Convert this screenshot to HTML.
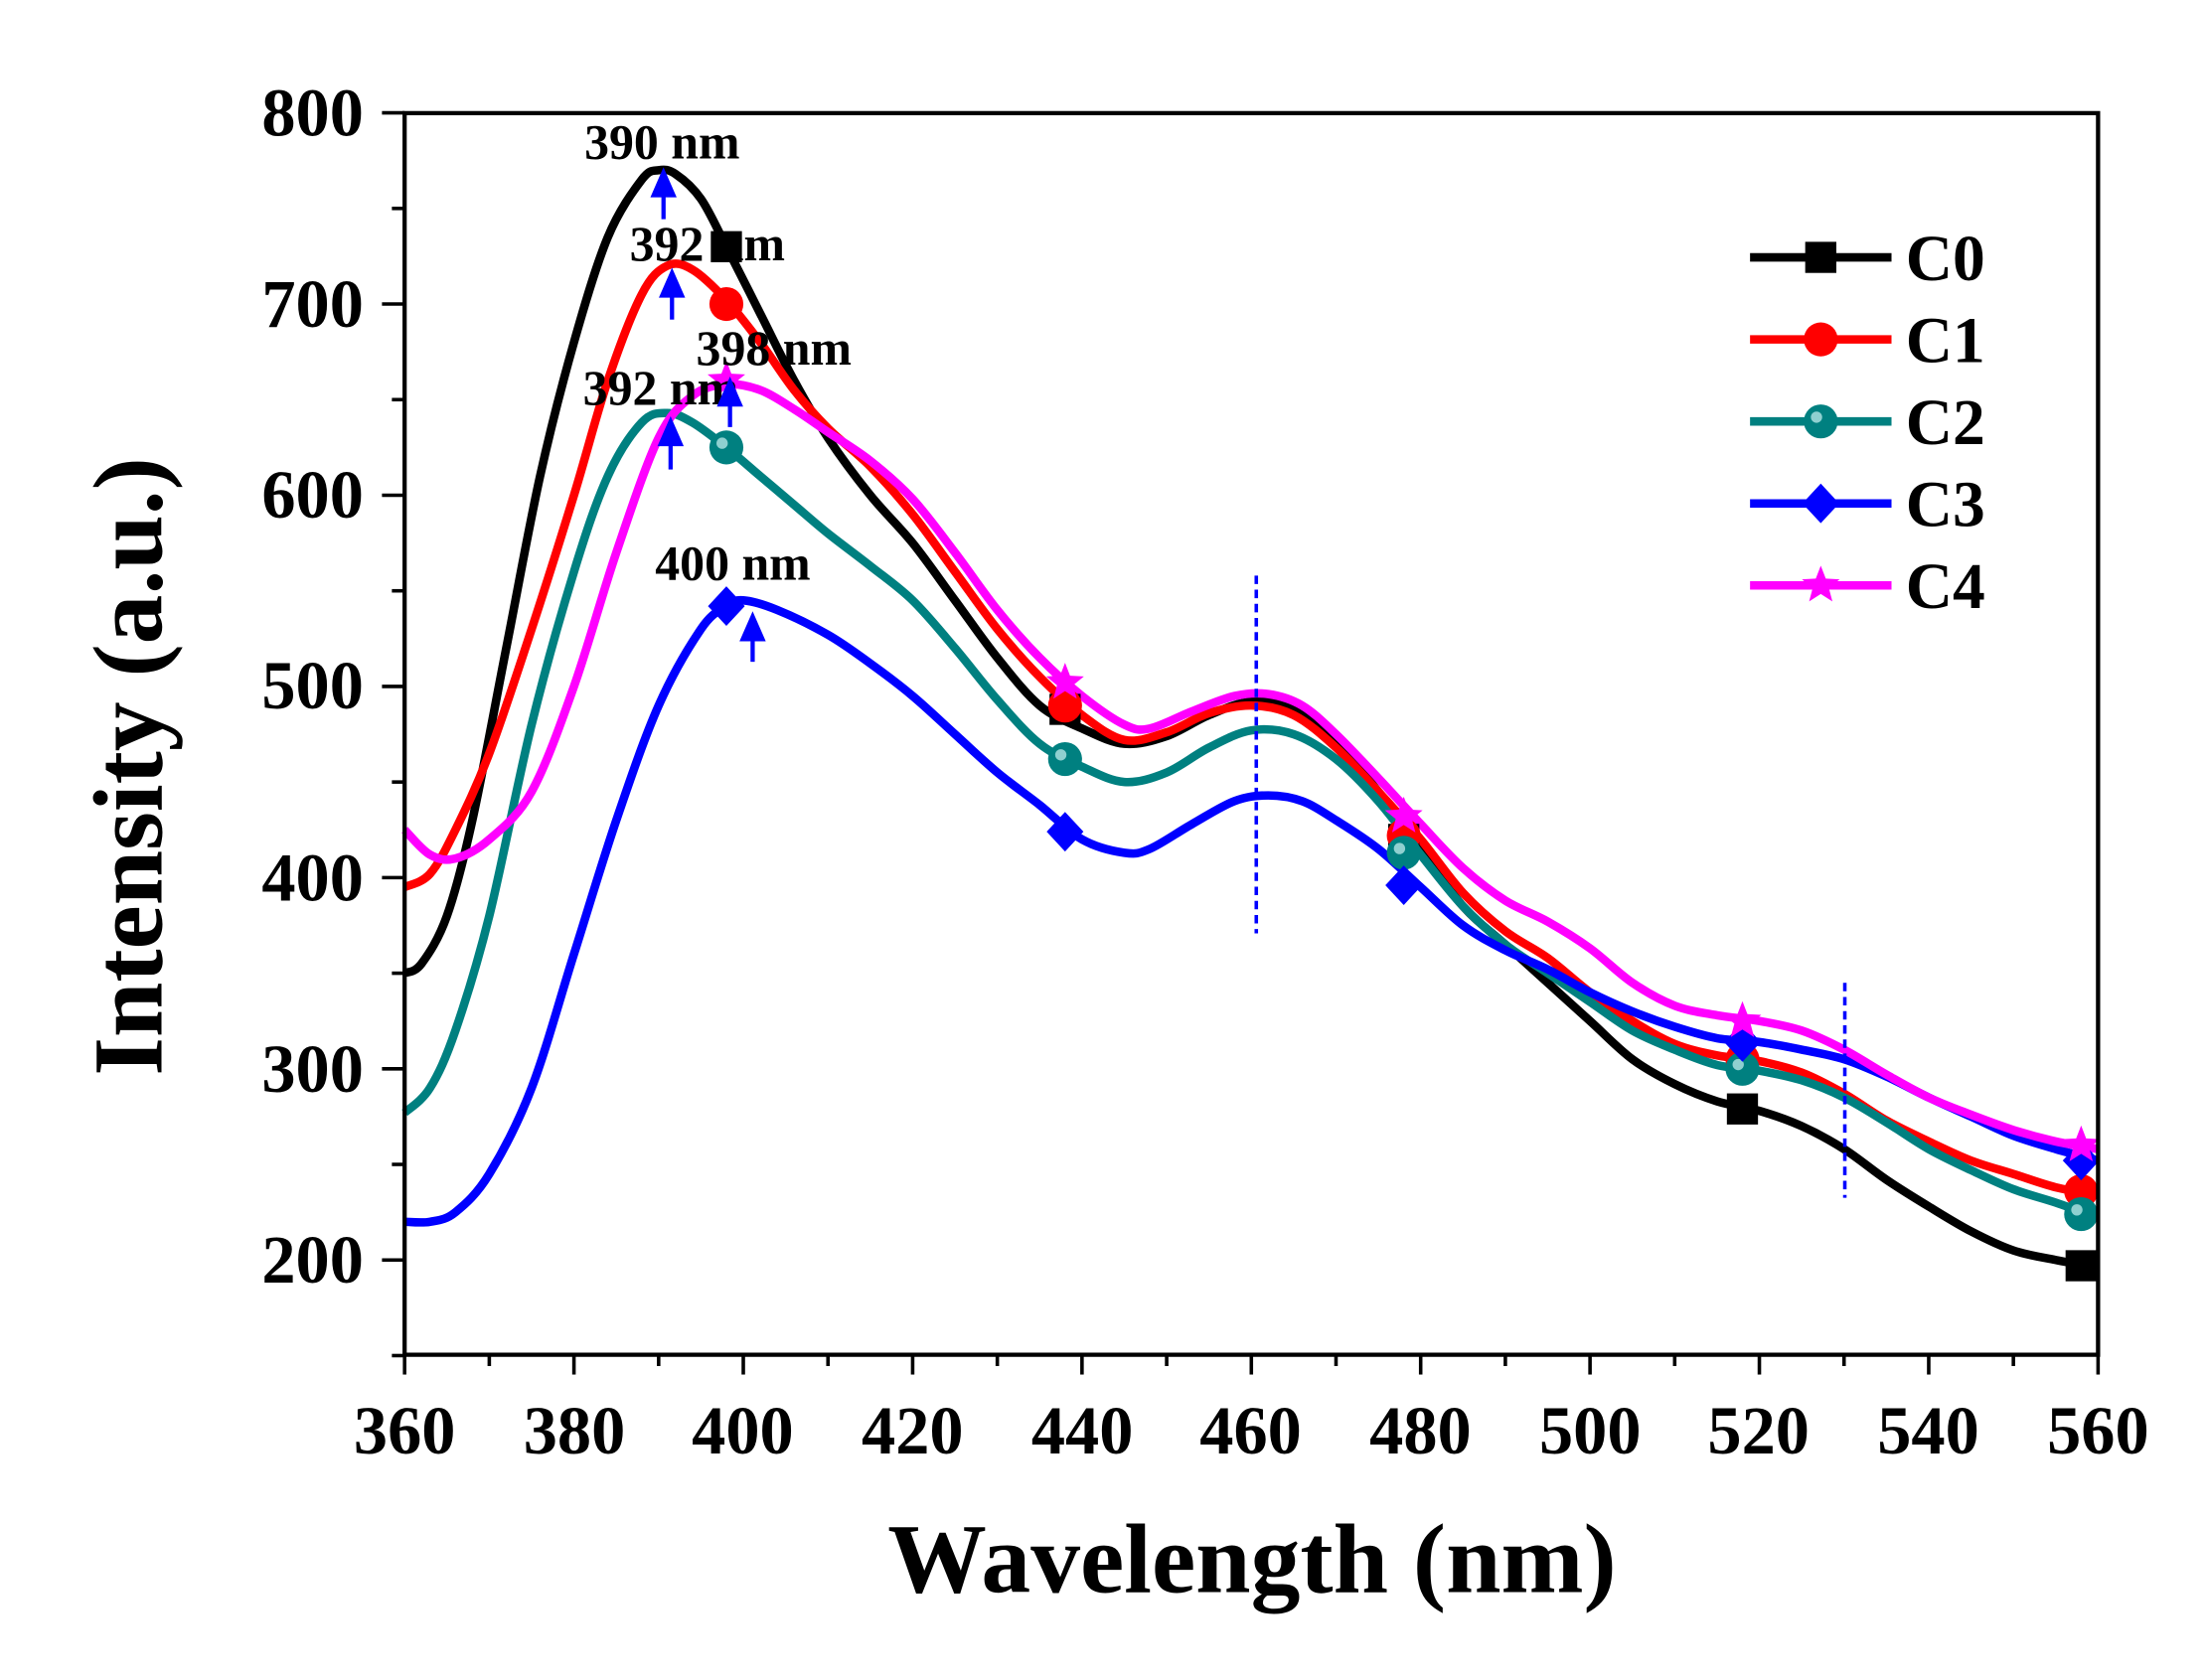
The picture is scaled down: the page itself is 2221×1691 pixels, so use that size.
<!DOCTYPE html>
<html><head><meta charset="utf-8"><style>
html,body{margin:0;padding:0;background:#fff;}
svg{display:block;}
text{font-family:"Liberation Serif",serif;font-weight:bold;}
</style></head><body>
<svg id="s" width="2221" height="1691" viewBox="0 0 1560 1188" preserveAspectRatio="none" xmlns="http://www.w3.org/2000/svg">
<rect x="0" y="0" width="1560" height="1188" fill="#fff"/>
<g id="curves" fill="none" stroke-width="6" stroke-linejoin="round"></g>
<g id="marks"></g>
<g id="ticks" stroke="#000" stroke-width="2.5"></g>
<rect x="286" y="80" width="1197" height="878" fill="none" stroke="#000" stroke-width="3"/>
<g font-size="48" text-anchor="end">
<text x="257" y="96">800</text><text x="257" y="231">700</text><text x="257" y="366">600</text>
<text x="257" y="501">500</text><text x="257" y="637">400</text><text x="257" y="772">300</text><text x="257" y="907">200</text>
</g>
<g font-size="48" text-anchor="middle">
<text x="286" y="1028">360</text><text x="406" y="1028">380</text><text x="525" y="1028">400</text>
<text x="645" y="1028">420</text><text x="765" y="1028">440</text><text x="884" y="1028">460</text>
<text x="1004" y="1028">480</text><text x="1124" y="1028">500</text><text x="1243" y="1028">520</text>
<text x="1363" y="1028">540</text><text x="1483" y="1028">560</text>
</g>
<text x="885" y="1126" font-size="70" text-anchor="middle">Wavelength (nm)</text>
<text transform="translate(114,542) rotate(-90)" font-size="70" text-anchor="middle">Intensity (a.u.)</text>
<g font-size="35" text-anchor="middle" fill="#000">
<text x="468" y="112">390 nm</text><text x="500" y="184">392 nm</text><text x="547" y="258">398 nm</text>
<text x="467" y="286">392 nm</text><text x="518" y="410">400 nm</text>
</g>
<g stroke="#0000ff" stroke-width="3" fill="#0000ff">
<line x1="469" y1="155" x2="469" y2="132"/><polygon points="469,122 462,138 476,138"/>
<line x1="475" y1="226" x2="475" y2="203"/><polygon points="475,193 468,209 482,209"/>
<line x1="474" y1="332" x2="474" y2="308"/><polygon points="474,298 467,314 481,314"/>
<line x1="516" y1="302" x2="516" y2="280"/><polygon points="516,270 509,286 523,286"/>
<line x1="532" y1="468" x2="532" y2="446"/><polygon points="532,436 525,452 539,452"/>
</g>
<g stroke="#0000ff" stroke-width="2.5" stroke-dasharray="6,4">
<line x1="888" y1="407" x2="888" y2="660"/><line x1="1304" y1="695" x2="1304" y2="847"/>
</g>
<g id="legend"></g>
<g font-size="46" fill="#000">
<text x="1347" y="198">C0</text><text x="1347" y="256">C1</text><text x="1347" y="314">C2</text>
<text x="1347" y="372">C3</text><text x="1347" y="430">C4</text>
</g>
</svg>
<script>
var NS="http://www.w3.org/2000/svg";
function X(n){return 286+(n-360)*5.985;}
function Y(v){return 891-(v-200)*1.352;}
function el(t,a,p){var e=document.createElementNS(NS,t);for(var k in a)e.setAttribute(k,a[k]);p.appendChild(e);return e;}
var D={
"#000000":[360,350,362,355,365,380,368,430,372,520,376,610,380,680,384,735,388,765,390,770,392,768,395,755,398,730,402,695,406,660,410,630,415,600,420,575,425,545,430,515,435,490,440,478,445,470,450,474,455,485,460,492,465,488,470,470,475,445,480,415,485,385,490,365,495,345,500,325,505,305,510,292,515,283,520,278,525,270,530,258,535,242,540,228,545,215,550,205,555,200,560,196],
"#ff0000":[360,395,363,402,366,425,370,465,375,530,380,600,384,660,388,705,391,720,394,718,398,702,402,680,406,655,410,635,415,615,420,590,425,560,430,530,435,505,440,485,445,472,450,476,455,486,460,490,465,485,470,468,475,445,480,420,485,392,490,372,495,358,500,340,505,325,510,313,515,307,520,304,525,298,530,287,535,273,540,262,545,252,550,245,555,238,560,234],
"#008080":[360,277,363,290,366,320,370,380,375,480,380,560,384,610,388,638,391,643,394,638,398,625,402,610,406,595,410,580,415,563,420,545,425,520,430,493,435,470,440,458,445,450,450,455,455,468,460,477,465,475,470,462,475,440,480,412,485,385,490,365,495,350,500,335,505,320,510,310,515,302,520,299,525,294,530,285,535,272,540,258,545,247,550,237,555,230,560,222],
"#0000ff":[360,220,363,220,366,225,370,245,375,290,380,360,385,430,390,490,395,530,398,542,400,545,404,540,410,527,415,512,420,495,425,475,430,455,435,438,440,420,445,413,448,415,453,428,458,440,462,443,466,440,470,430,475,415,480,395,485,375,490,362,495,352,500,340,505,330,510,322,515,316,520,314,525,310,530,305,535,296,540,285,545,275,550,265,555,258,560,252],
"#ff00ff":[360,425,363,412,366,410,370,420,375,445,380,500,385,570,390,630,394,652,398,658,402,655,406,645,410,633,415,618,420,598,425,570,430,540,435,515,440,495,445,480,448,478,453,487,458,495,462,496,466,490,470,475,475,452,480,428,485,405,490,388,495,377,500,363,505,345,510,333,515,328,520,325,525,320,530,310,535,297,540,285,545,276,550,268,555,262,560,258]};
var order=["#000000","#ff0000","#008080","#0000ff","#ff00ff"];
var cg=document.getElementById("curves");
order.forEach(function(c){var a=D[c],p=[];for(var i=0;i<a.length;i+=2)p.push([X(a[i]),Y(a[i+1])]);
var d="M"+p[0][0]+","+p[0][1];
for(var i=0;i<p.length-1;i++){var p0=p[i-1]||p[i],p1=p[i],p2=p[i+1],p3=p[i+2]||p2;
d+=" C"+(p1[0]+(p2[0]-p0[0])/6)+","+(p1[1]+(p2[1]-p0[1])/6)+" "+(p2[0]-(p3[0]-p1[0])/6)+","+(p2[1]-(p3[1]-p1[1])/6)+" "+p2[0]+","+p2[1];}
el("path",{d:d,stroke:c},cg);});
var mg=document.getElementById("marks");
function mark(type,c,x,y,g){var s=11;
if(type==0)el("rect",{x:x-s,y:y-s,width:2*s,height:2*s,fill:c},g);
else if(type==1)el("circle",{cx:x,cy:y,r:s+1,fill:c},g);
else if(type==2){el("circle",{cx:x,cy:y,r:s+1,fill:c},g);el("circle",{cx:x-3,cy:y-3,r:4,fill:"#8fd0d0"},g);}
else if(type==3)el("polygon",{points:(x)+","+(y-14)+" "+(x+13)+","+y+" "+x+","+(y+14)+" "+(x-13)+","+y,fill:c},g);
else{var pts=[];for(var k=0;k<10;k++){var r=k%2?6:14,an=-Math.PI/2+k*Math.PI/5;pts.push((x+r*Math.cos(an))+","+(y+r*Math.sin(an)));}el("polygon",{points:pts.join(" "),fill:c},g);}}
var M=[[730,488,420,279,197],[700,490,422,305,236],[625,462,413,300,224],[542,424,396,314,252],[660,502,432,325,260]];
var wl=[398,438,478,518,558];
M.forEach(function(v,i){v.forEach(function(val,j){mark(i,order[i],X(wl[j]),Y(val),mg);});});
var lg=document.getElementById("legend");
order.forEach(function(c,i){var y=182+58*i;el("line",{x1:1237,y1:y,x2:1337,y2:y,stroke:c,"stroke-width":6},lg);mark(i,c,1287,y,lg);});
var tg=document.getElementById("ticks");
for(var v=150;v<=800;v+=50){var y=Y(v);var L=(v%100==0)?16:9;el("line",{x1:286-L,y1:y,x2:286,y2:y},tg);}
for(var n=360;n<=560;n+=10){var x=X(n);var L=(n%20==0)?14:8;el("line",{x1:x,y1:958,x2:x,y2:958+L},tg);}
</script>
</body></html>
